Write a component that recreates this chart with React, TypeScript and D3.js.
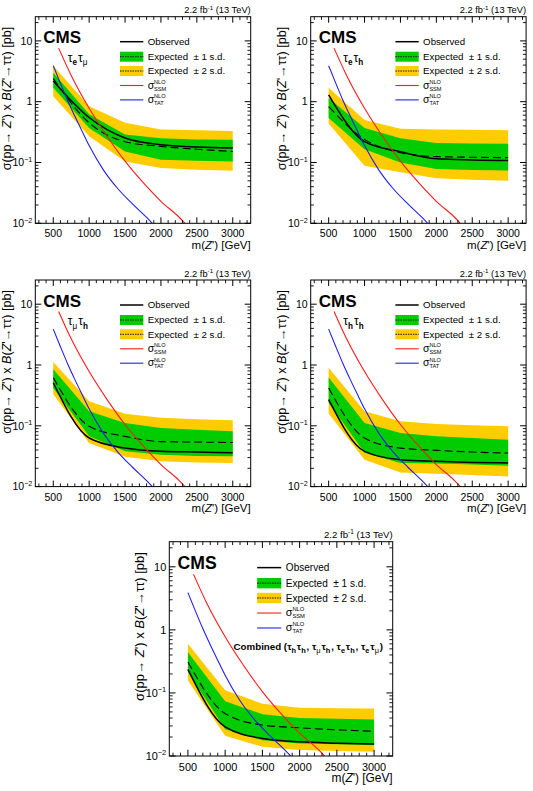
import React from 'react';
import * as d3 from 'd3';

// ---------- data ----------
const masses = [500, 1000, 1500, 2000, 2500, 3000];

// tau_e tau_mu
const emuObserved = [2.2, 0.55, 0.253, 0.196, 0.18, 0.173];
const emuExpected = [2.4, 0.45, 0.22, 0.184, 0.165, 0.152];
const emuMinus2 = [1.23, 0.27, 0.104, 0.081, 0.076, 0.073];
const emuMinus1 = [1.7, 0.37, 0.152, 0.111, 0.107, 0.104];
const emuPlus1 = [3.0, 0.62, 0.29, 0.25, 0.24, 0.237];
const emuPlus2 = [3.9, 0.84, 0.45, 0.35, 0.34, 0.33];

// tau_e tau_h
const etauObserved = [1.3, 0.22, 0.15, 0.115, 0.11, 0.108];
const etauExpected = [0.83, 0.24, 0.145, 0.125, 0.122, 0.12];
const etauMinus2 = [0.44, 0.088, 0.069, 0.055, 0.052, 0.05];
const etauMinus1 = [0.54, 0.165, 0.1, 0.078, 0.075, 0.074];
const etauPlus1 = [1.15, 0.37, 0.25, 0.21, 0.205, 0.204];
const etauPlus2 = [1.69, 0.5, 0.36, 0.35, 0.345, 0.34];

// tau_mu tau_h
const mutauObserved = [0.51, 0.063, 0.043, 0.038, 0.037, 0.036];
const mutauExpected = [0.62, 0.098, 0.067, 0.055, 0.054, 0.053];
const mutauMinus2 = [0.33, 0.052, 0.031, 0.026, 0.025, 0.0245];
const mutauMinus1 = [0.42, 0.067, 0.038, 0.0335, 0.032, 0.0315];
const mutauPlus1 = [0.85, 0.174, 0.111, 0.092, 0.086, 0.081];
const mutauPlus2 = [1.12, 0.254, 0.158, 0.135, 0.128, 0.123];

// tau_h tau_h
const tautauObserved = [0.27, 0.038, 0.0277, 0.026, 0.025, 0.0245];
const tautauExpected = [0.42, 0.063, 0.043, 0.0395, 0.037, 0.0356];
const tautauMinus2 = [0.16, 0.0277, 0.0171, 0.0163, 0.0155, 0.0147];
const tautauMinus1 = [0.24, 0.036, 0.0245, 0.024, 0.023, 0.022];
const tautauPlus1 = [0.62, 0.111, 0.076, 0.067, 0.063, 0.059];
const tautauPlus2 = [0.9, 0.174, 0.119, 0.107, 0.102, 0.098];

// combined
const combObserved = [0.236, 0.029, 0.019, 0.0168, 0.016, 0.0155];
const combExpected = [0.31, 0.047, 0.031, 0.028, 0.026, 0.0247];
const combMinus2 = [0.158, 0.0209, 0.014, 0.0124, 0.012, 0.0117];
const combMinus1 = [0.214, 0.0266, 0.0178, 0.0158, 0.0153, 0.0149];
const combPlus1 = [0.44, 0.074, 0.046, 0.04, 0.039, 0.038];
const combPlus2 = [0.6, 0.11, 0.0676, 0.058, 0.057, 0.0565];

// theory curves
const ssmMass = [575, 750, 1000, 1250, 1500, 1750, 2000, 2250, 2335];
const ssmXsec = [7.6, 2.7, 0.78, 0.27, 0.105, 0.047, 0.023, 0.0127, 0.01];
const tatMass = [500, 600, 700, 800, 900, 1000, 1200, 1400, 1600, 1800, 1880];
const tatXsec = [3.9, 2.0, 1.05, 0.58, 0.33, 0.19, 0.075, 0.037, 0.021, 0.0125, 0.01];

// axes
const xDomain = [250, 3250];
const yDomain = [0.01, 25];
const xTickValues = [500, 1000, 1500, 2000, 2500, 3000];
const yTickValues = [0.01, 0.1, 1, 10];
const yTickBase = ['10', '10', '1', '10'];
const yTickExp = ['\u22122', '\u22121', '', ''];

const legendLabels = ['Observed', 'Expected  \u00b1 1 s.d.', 'Expected  \u00b1 2 s.d.'];

const GREEN = '#00cc00';
const YELLOW = '#ffcc00';
const RED = '#ff1a1a';
const BLUE = '#2020ee';
const FONT = '"Liberation Sans", Arial, Helvetica, sans-serif';

type Channel = {
  id: string;
  label: 'emu' | 'etau' | 'mutau' | 'tautau' | 'comb';
  obs: number[];
  exp: number[];
  m2: number[];
  m1: number[];
  p1: number[];
  p2: number[];
};

const channels: Channel[] = [
  { id: 'p1', label: 'emu', obs: emuObserved, exp: emuExpected, m2: emuMinus2, m1: emuMinus1, p1: emuPlus1, p2: emuPlus2 },
  { id: 'p2', label: 'etau', obs: etauObserved, exp: etauExpected, m2: etauMinus2, m1: etauMinus1, p1: etauPlus1, p2: etauPlus2 },
  { id: 'p3', label: 'mutau', obs: mutauObserved, exp: mutauExpected, m2: mutauMinus2, m1: mutauMinus1, p1: mutauPlus1, p2: mutauPlus2 },
  { id: 'p4', label: 'tautau', obs: tautauObserved, exp: tautauExpected, m2: tautauMinus2, m1: tautauMinus1, p1: tautauPlus1, p2: tautauPlus2 },
  { id: 'p5', label: 'comb', obs: combObserved, exp: combExpected, m2: combMinus2, m1: combMinus1, p1: combPlus1, p2: combPlus2 },
];

const layout = [
  { x0: 35.3, y0: 16.7, w: 215.4, h: 206.6, s: 1 },
  { x0: 310.7, y0: 16.7, w: 215.4, h: 206.6, s: 1 },
  { x0: 35.3, y0: 280, w: 215.4, h: 206.6, s: 1 },
  { x0: 310.7, y0: 280, w: 215.4, h: 206.6, s: 1 },
  { x0: 169.3, y0: 541.7, w: 223.4, h: 214.3, s: 1.037 },
];

function Tau({ sub, bold, fs }: { sub: string; bold: boolean; fs: number }) {
  return (
    <>
      <tspan>τ</tspan>
      <tspan dy={fs * 0.28} fontSize={fs * 0.68} fontWeight={bold ? 'bold' : 'normal'}>{sub}</tspan>
      <tspan dy={-fs * 0.28}>{'\u200a'}</tspan>
    </>
  );
}

function ChannelLabel({ label, fs }: { label: string; fs: number }) {
  const parts: [string, boolean][] = ({
    emu: [['e', true], ['μ', false]],
    etau: [['e', true], ['h', true]],
    mutau: [['μ', false], ['h', true]],
    tautau: [['h', true], ['h', true]],
  } as any)[label];
  return (
    <>
      {parts.map((p, i) => (
        <Tau key={i} sub={p[0]} bold={p[1]} fs={fs} />
      ))}
    </>
  );
}

function Panel({ ch, x0, y0, w, h, s }: { ch: Channel; x0: number; y0: number; w: number; h: number; s: number }) {
  const x = d3.scaleLinear().domain(xDomain).range([0, w]);
  const y = d3.scaleLog().domain(yDomain).range([h, 0]);

  const yellowPath = d3
    .area<number>()
    .x((_, i) => x(masses[i]))
    .y0((_, i) => y(ch.m2[i]))
    .y1((_, i) => y(ch.p2[i]))(masses) as string;
  const greenPath = d3
    .area<number>()
    .x((_, i) => x(masses[i]))
    .y0((_, i) => y(ch.m1[i]))
    .y1((_, i) => y(ch.p1[i]))(masses) as string;

  const line = (vals: number[]) =>
    d3
      .line<number>()
      .x((_, i) => x(masses[i]))
      .y((_, i) => y(vals[i]))
      .curve(d3.curveMonotoneX)(masses) as string;

  const theory = (ms: number[], vs: number[]) =>
    d3
      .line<number>()
      .x((m) => x(m))
      .y((_, i) => y(vs[i]))
      .curve(d3.curveMonotoneX)(ms) as string;

  const minY: number[] = [];
  [0.01, 0.1, 1, 10].forEach((d) => {
    for (let k = 2; k <= 9; k++) {
      const v = d * k;
      if (v < yDomain[1]) minY.push(v);
    }
  });
  const minX: number[] = [];
  for (let m = 300; m <= 3200; m += 100) if (m % 500 !== 0) minX.push(m);

  const tMaj = 6 * s;
  const tMin = 3.2 * s;
  const tickFs = 10.5 * s;
  const legFs = 9.7 * s;

  const lx0 = 84.7 * s;
  const lx1 = 108 * s;
  const ltx = 112.4 * s;
  const rows = [25, 40, 54.3, 68.8, 83.2].map((r) => r * s);
  const clipId = `clip-${ch.id}`;

  return (
    <g transform={`translate(${x0},${y0})`} fontFamily={FONT}>
      <defs>
        <clipPath id={clipId}>
          <rect x={0} y={0} width={w} height={h} />
        </clipPath>
      </defs>
      <g clipPath={`url(#${clipId})`}>
        <path d={yellowPath} fill={YELLOW} />
        <path d={greenPath} fill={GREEN} />
        <path d={line(ch.exp)} fill="none" stroke="#000" strokeWidth={1.1} strokeDasharray="8,4" />
        <path d={line(ch.obs)} fill="none" stroke="#000" strokeWidth={1.5} />
        <path d={theory(ssmMass, ssmXsec)} fill="none" stroke={RED} strokeWidth={1.1} />
        <path d={theory(tatMass, tatXsec)} fill="none" stroke={BLUE} strokeWidth={1.1} />
      </g>
      <rect x={0} y={0} width={w} height={h} fill="none" stroke="#000" strokeWidth={1} />

      {yTickValues.map((v) => (
        <g key={'My' + v}>
          <line x1={0} x2={tMaj} y1={y(v)} y2={y(v)} stroke="#000" strokeWidth={1} />
          <line x1={w} x2={w - tMaj} y1={y(v)} y2={y(v)} stroke="#000" strokeWidth={1} />
        </g>
      ))}
      {minY.map((v) => (
        <g key={'my' + v}>
          <line x1={0} x2={tMin} y1={y(v)} y2={y(v)} stroke="#000" strokeWidth={0.9} />
          <line x1={w} x2={w - tMin} y1={y(v)} y2={y(v)} stroke="#000" strokeWidth={0.9} />
        </g>
      ))}
      {xTickValues.map((v) => (
        <g key={'Mx' + v}>
          <line x1={x(v)} x2={x(v)} y1={h} y2={h - tMaj} stroke="#000" strokeWidth={1} />
          <line x1={x(v)} x2={x(v)} y1={0} y2={tMaj} stroke="#000" strokeWidth={1} />
        </g>
      ))}
      {minX.map((v) => (
        <g key={'mx' + v}>
          <line x1={x(v)} x2={x(v)} y1={h} y2={h - tMin} stroke="#000" strokeWidth={0.9} />
          <line x1={x(v)} x2={x(v)} y1={0} y2={tMin} stroke="#000" strokeWidth={0.9} />
        </g>
      ))}

      {xTickValues.map((v) => (
        <text key={'xl' + v} x={x(v)} y={h + 14 * s} textAnchor="middle" fontSize={tickFs}>
          {v}
        </text>
      ))}
      {yTickValues.map((v, i) => (
        <text key={'yl' + v} x={-3 * s} y={y(v) + tickFs * 0.36} textAnchor="end" fontSize={tickFs}>
          {yTickBase[i]}
          {yTickExp[i] ? (
            <tspan dy={-tickFs * 0.42} fontSize={tickFs * 0.68}>
              {yTickExp[i]}
            </tspan>
          ) : null}
        </text>
      ))}

      <text x={w} y={h + 25.5 * s} textAnchor="end" fontSize={11.5 * s}>
        m(<tspan fontStyle="italic">Z</tspan>') [GeV]
      </text>
      <text
        transform={`translate(${-24.3 * s},${10 * s}) rotate(-90)`}
        textAnchor="end"
        fontSize={12.6 * s}
        style={{ whiteSpace: 'pre' }}
      >
        {'σ(pp→ '}
        <tspan fontStyle="italic">Z</tspan>
        {"') x "}
        <tspan fontStyle="italic">B</tspan>
        {'('}
        <tspan fontStyle="italic">Z</tspan>
        {"'→ττ) [pb]"}
      </text>

      <text x={w} y={-3.4 * s} textAnchor="end" fontSize={9.3 * s}>
        2.2 fb<tspan dy={-3.6 * s} fontSize={6.2 * s}>-1</tspan>
        <tspan dy={3.6 * s}> (13 TeV)</tspan>
      </text>

      <text x={8 * s} y={26.6 * s} fontSize={17 * s} fontWeight="bold">
        CMS
      </text>

      {ch.label !== 'comb' ? (
        <text x={32.5 * s} y={45.3 * s} fontSize={12 * s}>
          <ChannelLabel label={ch.label} fs={12 * s} />
        </text>
      ) : (
        <text x={62 * s} y={104.6 * s} fontSize={9.4 * s} fontWeight="bold">
          Combined (<ChannelLabel label="tautau" fs={10.5 * s} />,{' '}
          <ChannelLabel label="mutau" fs={10.5 * s} />, <ChannelLabel label="etau" fs={10.5 * s} />,{' '}
          <ChannelLabel label="emu" fs={10.5 * s} />)
        </text>
      )}

      <line x1={lx0} x2={lx1} y1={rows[0]} y2={rows[0]} stroke="#000" strokeWidth={1.5} />
      <rect x={lx0} y={rows[1] - 5 * s} width={lx1 - lx0} height={10 * s} fill={GREEN} />
      <line x1={lx0} x2={lx1} y1={rows[1]} y2={rows[1]} stroke="#000" strokeWidth={0.9} strokeDasharray="1.5,1" />
      <rect x={lx0} y={rows[2] - 5 * s} width={lx1 - lx0} height={10 * s} fill={YELLOW} />
      <line x1={lx0} x2={lx1} y1={rows[2]} y2={rows[2]} stroke="#000" strokeWidth={0.9} strokeDasharray="1.5,1" />
      <line x1={lx0} x2={lx1} y1={rows[3]} y2={rows[3]} stroke={RED} strokeWidth={1.1} />
      <line x1={lx0} x2={lx1} y1={rows[4]} y2={rows[4]} stroke={BLUE} strokeWidth={1.1} />
      {legendLabels.map((t, i) => (
        <text key={t} x={ltx} y={rows[i] + legFs * 0.36} fontSize={legFs} style={{ whiteSpace: 'pre' }}>
          {t}
        </text>
      ))}
      {[
        ['SSM', rows[3]],
        ['TAT', rows[4]],
      ].map(([sub, ry]) => (
        <g key={sub as string}>
          <text x={ltx} y={(ry as number) + 3.2 * s} fontSize={10.5 * s}>
            σ
          </text>
          <text x={ltx + 6.3 * s} y={(ry as number) - 1.6 * s} fontSize={5.6 * s}>
            NLO
          </text>
          <text x={ltx + 6.3 * s} y={(ry as number) + 5.2 * s} fontSize={5.6 * s}>
            {sub}
          </text>
        </g>
      ))}
    </g>
  );
}

export default function App() {
  return (
    <svg width={533} height={791} style={{ position: 'absolute', left: 0, top: 0, background: '#fff' }}>
      <rect x={0} y={0} width={533} height={791} fill="#fff" />
      {channels.map((ch, i) => (
        <Panel key={ch.id} ch={ch} {...layout[i]} />
      ))}
    </svg>
  );
}
